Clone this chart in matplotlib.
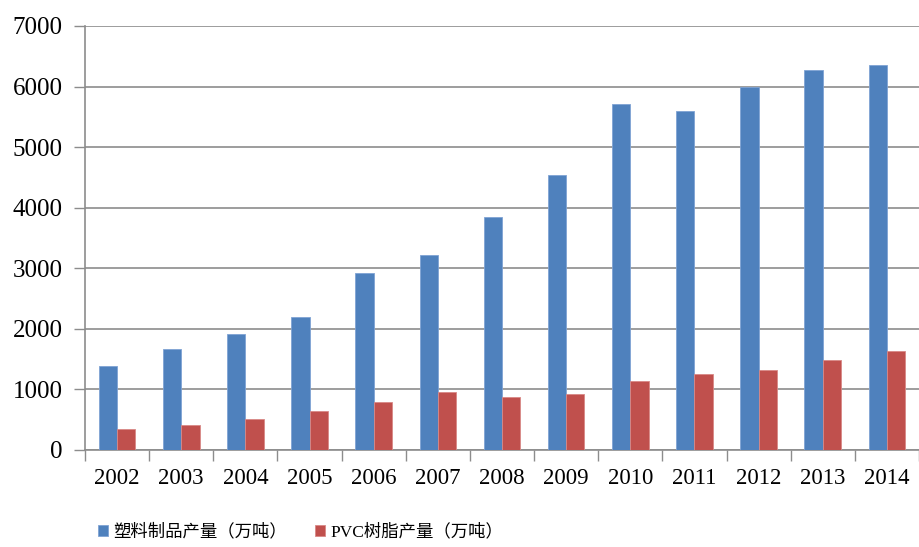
import matplotlib.pyplot as plt
import numpy as np

years = ['2002', '2003', '2004', '2005', '2006', '2007', '2008',
         '2009', '2010', '2011', '2012', '2013', '2014']
plastic = [1386, 1662, 1914, 2190, 2926, 3223, 3840,
           4533, 5715, 5594, 5990, 6266, 6353]
pvc = [347, 407, 517, 638, 787, 957, 875,
       919, 1133, 1254, 1320, 1490, 1639]
series_labels = ['塑料制品产量（万吨）', 'PVC树脂产量（万吨）']
yticks = [0, 1000, 2000, 3000, 4000, 5000, 6000, 7000]

fonts = ['Liberation Serif', 'Noto Sans CJK SC', 'DejaVu Sans']
plt.rcParams['font.family'] = fonts

fig = plt.figure(figsize=(9.19, 5.47), dpi=100)
ax = fig.add_axes([85 / 919, 1 - 450 / 547, 1 - 85 / 919, 424 / 547])

x = np.arange(len(years))
w = 0.285  # bar width (Excel gap width ~150%)
grid_c = '#8c8c8c'

ax.bar(x - w / 2, plastic, w, color='#4F81BD', edgecolor='#7FA3D4', linewidth=0.6,
       label=series_labels[0], zorder=3)
ax.bar(x + w / 2, pvc, w, color='#C0504D', edgecolor='#D88987', linewidth=0.6,
       label=series_labels[1], zorder=3)

ax.set_xlim(-0.5, len(years) - 0.5)
ax.set_ylim(0, 7000)
ax.set_yticks(yticks)
ax.tick_params(axis='y', labelsize=18, length=8, color=grid_c, width=1, pad=8)
ax.yaxis.grid(True, color=grid_c, linewidth=1.2, zorder=0)

# category labels centred, tick marks between categories
ax.set_xticks(x)
ax.set_xticklabels(years)
ax.set_xticks(np.arange(-0.5, len(years)), minor=True)
ax.tick_params(axis='x', which='major', length=0, labelsize=16.5, pad=13)
ax.tick_params(axis='x', which='minor', length=8, color=grid_c, width=1)

ax.spines['top'].set_visible(False)
ax.spines['right'].set_visible(False)
ax.spines['left'].set_color(grid_c)
ax.spines['bottom'].set_color(grid_c)
ax.spines['left'].set_linewidth(1.2)
ax.spines['bottom'].set_linewidth(1.2)

fig.legend(loc='center left', bbox_to_anchor=(82 / 919, 1 - 532 / 547), ncol=2,
           frameon=False, fontsize=12.5, handlelength=0.6, handleheight=0.6,
           handletextpad=0.3, columnspacing=1.6)

fig.savefig('out.png', dpi=100)
